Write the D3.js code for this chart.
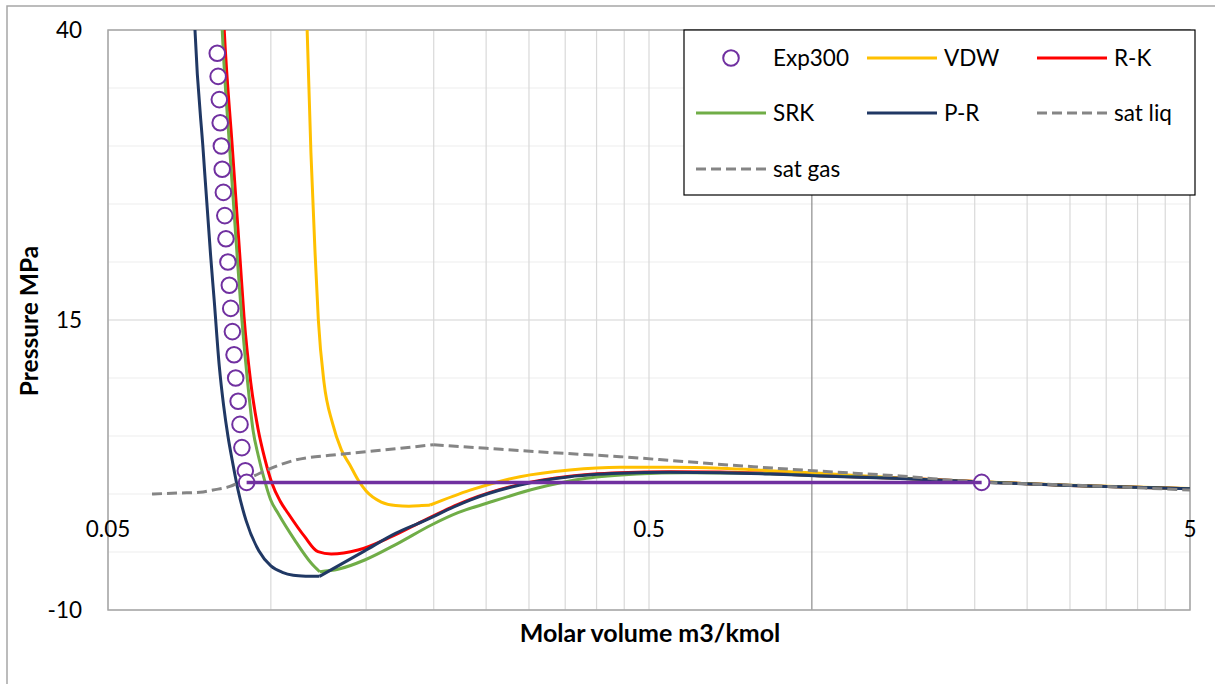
<!DOCTYPE html>
<html><head><meta charset="utf-8">
<script src="https://cdn.jsdelivr.net/npm/d3@7"></script>
<style>
body{margin:0;background:#fff}
svg{display:block}
text{font-family:Lato,"Open Sans",sans-serif;fill:#000}
</style>
</head><body>
<svg id="chart" width="1215" height="684"></svg>
<script>
// ---------- data ----------
const xTickValues = [0.05, 0.5, 5];
const xTickLabels = ["0.05", "0.5", "5"];
const yTickValues = [-10, 15, 40];
const yTickLabels = ["-10", "15", "40"];

const expV = [0.0796,0.0799,0.0803,0.0806,0.0810,0.0813,0.0817,0.0822,0.0826,0.0833,0.0838,0.0843,0.0849,0.0855,0.0861,0.0870,0.0877,0.0884,0.0897,0.0902,2.06];
const expP = [38,36,34,32,30,28,26,24,22,20,18,16,14,12,10,8,6,4,2,1.0,1.0];

const vdwV = [0.1150,0.1167,0.1186,0.1207,0.1224,0.1254,0.1300,0.1350,0.1400,0.1450,0.1500,0.1600,0.1700,0.1800,0.1900,0.1970,0.2335,0.2887,0.3570,0.4420,0.5470,0.6770,0.8370,1.0350,1.4550,2.0500,3.0000,5.0000];
const vdwP = [52,40,29.4,20.8,15.0,9.6,6.1,3.8,2.5,1.2,0.25,-0.7,-1.0,-1.05,-1.0,-0.95,0.34,1.49,2.07,2.30,2.30,2.22,2.01,1.78,1.38,1.05,0.75,0.47];
const vdwKinks = [0.1970];

const rkV = [0.0800,0.0820,0.0848,0.0877,0.0892,0.0918,0.0947,0.0975,0.1005,0.1040,0.1076,0.1155,0.1222,0.1293,0.1449,0.1670,0.1925,0.2218,0.2335,0.2887,0.3570,0.4420,0.5470,0.6770,0.8370,1.0350,1.4550,2.0500,3.0000,5.0000];
const rkP = [52,40,30.1,20.3,15.3,9.6,5.6,3.0,0.9,-0.6,-1.66,-3.68,-4.97,-5.17,-4.83,-3.68,-2.25,-0.9,-0.47,0.83,1.54,1.83,1.92,1.89,1.76,1.58,1.36,1.05,0.74,0.46];
const rkKinks = [];

const srkV = [0.0795,0.0813,0.0840,0.0867,0.0883,0.0906,0.0927,0.0948,0.0976,0.0999,0.1031,0.1107,0.1188,0.1231,0.1331,0.1491,0.1718,0.1980,0.2218,0.2506,0.3101,0.3835,0.4746,0.5870,0.7800,1.0350,1.4550,2.0500,3.0000,5.0000];
const srkP = [52,40,29.5,20.3,15.3,9.6,5.5,3.3,1.0,-0.5,-1.66,-3.97,-5.97,-6.7,-6.49,-5.69,-4.25,-2.67,-1.61,-0.80,0.49,1.35,1.72,1.84,1.78,1.58,1.35,1.05,0.74,0.46];
const srkKinks = [0.1231];

const prV = [0.0700,0.0724,0.0750,0.0774,0.0786,0.0803,0.0818,0.0833,0.0850,0.0870,0.0900,0.0950,0.1000,0.1050,0.1100,0.1160,0.1230,0.1491,0.1700,0.1925,0.2218,0.2335,0.2887,0.3570,0.4420,0.5470,0.6770,0.8370,1.0350,1.4550,2.0500,3.0000,5.0000];
const prP = [62,40,29.5,20.5,16.6,11.0,7.6,5.0,2.7,0.3,-2.3,-4.9,-6.2,-6.75,-7.0,-7.08,-7.1,-4.9,-3.4,-2.3,-0.95,-0.52,0.78,1.49,1.78,1.87,1.84,1.72,1.55,1.33,1.03,0.73,0.46];
const prKinks = [0.1230];

const satLiqV = [0.0603,0.0680,0.0740,0.0782,0.0840,0.0877,0.0930,0.0983,0.1110,0.1303,0.1505,0.1733,0.2000];
const satLiqP = [0.0,0.09,0.15,0.35,0.65,1.05,1.55,2.07,2.93,3.36,3.65,3.94,4.25];

const satGasV = [0.2000,0.2506,0.3327,0.4420,0.5870,0.7800,1.0350,1.4550,2.0500,2.9600,5.0000];
const satGasP = [4.25,3.94,3.56,3.22,2.78,2.35,1.97,1.55,1.02,0.78,0.34];

// ---------- layout ----------
const svg = d3.select("#chart");
const L = 108, R = 1190, T = 30, B = 610;
const x = d3.scaleLog().domain([0.05, 5]).range([L, R]);
const y = d3.scaleLinear().domain([-10, 40]).range([B, T]);

// outer chart border
svg.append("rect").attr("x", 7).attr("y", 6).attr("width", 1230).attr("height", 700)
  .attr("fill", "#fff").attr("stroke", "#a6a6a6").attr("stroke-width", 1.5);

// horizontal gridlines
const hMinor = d3.range(-10, 40.1, 5).filter(v => !yTickValues.includes(v));
svg.append("g").selectAll("line").data(hMinor).join("line")
  .attr("x1", L).attr("x2", R).attr("y1", d => y(d)).attr("y2", d => y(d))
  .attr("stroke", "#ededed").attr("stroke-width", 1.2);
svg.append("g").selectAll("line").data(yTickValues).join("line")
  .attr("x1", L).attr("x2", R).attr("y1", d => y(d)).attr("y2", d => y(d))
  .attr("stroke", "#d4d4d4").attr("stroke-width", 1.2);

// vertical gridlines (log minor)
const vLines = [];
[0.05, 0.5].forEach(b => { for (let k = 2; k <= 9; k++) vLines.push(b * k); });
svg.append("g").selectAll("line").data(vLines.filter(v => Math.abs(v - 1) > 1e-9)).join("line")
  .attr("x1", d => x(d)).attr("x2", d => x(d)).attr("y1", T).attr("y2", B)
  .attr("stroke", "#d9d9d9").attr("stroke-width", 1.2);
svg.append("g").selectAll("line").data(xTickValues).join("line")
  .attr("x1", d => x(d)).attr("x2", d => x(d)).attr("y1", T).attr("y2", B)
  .attr("stroke", "#d9d9d9").attr("stroke-width", 1.2);

// vertical axis line crossing at v = 1
svg.append("line").attr("x1", x(1)).attr("x2", x(1)).attr("y1", T).attr("y2", B)
  .attr("stroke", "#8c8c8c").attr("stroke-width", 1.2);

// plot border
svg.append("rect").attr("x", L).attr("y", T).attr("width", R - L).attr("height", B - T)
  .attr("fill", "none").attr("stroke", "#a6a6a6").attr("stroke-width", 1.5);

// axis tick labels
svg.append("g").selectAll("text").data(yTickValues).join("text")
  .attr("x", 82).attr("y", d => y(d)).attr("dy", "0.36em")
  .attr("text-anchor", "end").attr("font-size", 22.5)
  .text((d, i) => yTickLabels[i]);
svg.append("g").selectAll("text").data(xTickValues).join("text")
  .attr("x", d => x(d)).attr("y", 529).attr("dy", "0.36em")
  .attr("text-anchor", "middle").attr("font-size", 22.5)
  .text((d, i) => xTickLabels[i]);

// axis titles
svg.append("text").attr("x", (L + R) / 2 + 1).attr("y", 633).attr("dy", "0.36em")
  .attr("text-anchor", "middle").attr("font-size", 25).attr("font-weight", "bold")
  .text("Molar volume m3/kmol");
svg.append("text").attr("transform", `translate(29,${(T + B) / 2 + 1}) rotate(-90)`)
  .attr("dy", "0.36em").attr("text-anchor", "middle").attr("font-size", 24.5).attr("font-weight", "bold")
  .text("Pressure MPa");

// clip
svg.append("clipPath").attr("id", "clip").append("rect")
  .attr("x", L).attr("y", T).attr("width", R - L).attr("height", B - T);
const plot = svg.append("g").attr("clip-path", "url(#clip)");

const line = d3.line().x(d => x(d[0])).y(d => y(d[1])).curve(d3.curveMonotoneX);
const straight = d3.line().x(d => x(d[0])).y(d => y(d[1]));

// split a series into smooth pieces at its sharp corners
function pieces(v, p, kinks) {
  const out = []; let cur = [];
  d3.zip(v, p).forEach(pt => {
    cur.push(pt);
    if (kinks.includes(pt[0])) { out.push(cur); cur = [pt]; }
  });
  out.push(cur);
  return out;
}

const series = [
  {name: "VDW", v: vdwV, p: vdwP, k: vdwKinks, color: "#ffc000", dash: null},
  {name: "R-K", v: rkV, p: rkP, k: rkKinks, color: "#ff0000", dash: null},
  {name: "SRK", v: srkV, p: srkP, k: srkKinks, color: "#70ad47", dash: null},
  {name: "P-R", v: prV, p: prP, k: prKinks, color: "#203864", dash: null},
  {name: "sat liq", v: satLiqV, p: satLiqP, k: [], color: "#858585", dash: "10,5"},
  {name: "sat gas", v: satGasV, p: satGasP, k: [], color: "#858585", dash: "10,5"}
];
series.forEach(s => {
  pieces(s.v, s.p, s.k).forEach(seg => {
    plot.append("path").datum(seg).attr("d", line)
      .attr("fill", "none").attr("stroke", s.color).attr("stroke-width", 3)
      .attr("stroke-linejoin", "round")
      .attr("stroke-dasharray", s.dash);
  });
});

// experimental points
plot.append("g").selectAll("circle").data(d3.zip(expV, expP)).join("circle")
  .attr("cx", d => x(d[0])).attr("cy", d => y(d[1])).attr("r", 7.8)
  .attr("fill", "#fff").attr("stroke", "#7030a0").attr("stroke-width", 2);

// tie line between saturated liquid and gas points
const n = expV.length;
plot.append("path").datum([[expV[n - 2], expP[n - 2]], [expV[n - 1], expP[n - 1]]]).attr("d", straight)
  .attr("fill", "none").attr("stroke", "#7030a0").attr("stroke-width", 3.5);

// ---------- legend ----------
const lg = svg.append("g");
lg.append("rect").attr("x", 684).attr("y", 30).attr("width", 511).attr("height", 165)
  .attr("fill", "#fff").attr("stroke", "#000").attr("stroke-width", 1.2);
const colX = [696, 867, 1037];
const rowY = [58, 113, 169];
const legendItems = [
  {name: "Exp300", marker: true, color: "#7030a0"},
  ...series.map(s => ({name: s.name, color: s.color, dash: s.dash}))
];
const order = ["Exp300", "VDW", "R-K", "SRK", "P-R", "sat liq", "sat gas"];
order.forEach((nm, i) => {
  const it = legendItems.find(d => d.name === nm);
  const cx = colX[i % 3], cy = rowY[Math.floor(i / 3)];
  if (it.marker) {
    lg.append("circle").attr("cx", cx + 35).attr("cy", cy).attr("r", 7.8)
      .attr("fill", "#fff").attr("stroke", it.color).attr("stroke-width", 2);
  } else {
    lg.append("line").attr("x1", cx).attr("x2", cx + 70).attr("y1", cy).attr("y2", cy)
      .attr("stroke", it.color).attr("stroke-width", 3).attr("stroke-dasharray", it.dash);
  }
  lg.append("text").attr("x", cx + 77).attr("y", cy).attr("dy", "0.36em")
    .attr("font-size", 22.5).text(it.name);
});
</script>
</body></html>
